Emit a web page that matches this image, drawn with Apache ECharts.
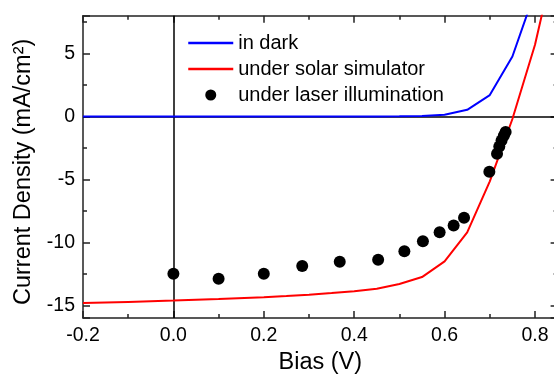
<!DOCTYPE html>
<html>
<head>
<meta charset="utf-8">
<script src="https://cdn.jsdelivr.net/npm/echarts@6/dist/echarts.min.js"></script>
<style>html,body{margin:0;padding:0;background:#fff}#c{width:554px;height:375px}</style>
</head>
<body>
<div id="c"></div>
<script>
const darkV = [-0.2, -0.1, 0.0, 0.1, 0.2, 0.3, 0.4, 0.45, 0.5, 0.55, 0.6, 0.65, 0.7, 0.75, 0.8];
const darkJ = [0, 0, 0, 0, 0, 0, 0, 0, 0.01, 0.03, 0.13, 0.53, 1.7, 4.76, 9.9];
const solarV = [-0.2, -0.1, 0.0, 0.1, 0.2, 0.25, 0.3, 0.35, 0.4, 0.45, 0.5, 0.55, 0.6, 0.65, 0.7, 0.75, 0.8, 0.85];
const solarJ = [-14.81, -14.72, -14.62, -14.5, -14.35, -14.26, -14.15, -14.02, -13.88, -13.67, -13.3, -12.75, -11.5, -9.2, -5.15, -0.2, 5.7, 13.5];
const laserV = [0, 0.1, 0.2, 0.285, 0.368, 0.453, 0.511, 0.552, 0.589, 0.62, 0.643, 0.699, 0.716, 0.721, 0.726, 0.731, 0.735];
const laserJ = [-12.49, -12.89, -12.49, -11.88, -11.53, -11.37, -10.7, -9.9, -9.2, -8.65, -8.05, -4.38, -2.96, -2.38, -1.9, -1.53, -1.24];
const names = ['in dark', 'under solar simulator', 'under laser illumination'];

const zip = (a, b) => a.map((v, i) => [v, b[i]]);
const FONT = 'Liberation Sans, Arial, sans-serif';
const axisCol = '#222';

function xAx(pos, show) {
  return {
    type: 'value', position: pos, min: -0.2, max: 0.85, interval: 0.2,
    axisLine: { show: true, onZero: false, lineStyle: { color: axisCol, width: 1.5 } },
    axisTick: { show: true, inside: true, length: 7, lineStyle: { color: axisCol, width: 1.5 } },
    minorTick: { show: true, splitNumber: 2, length: 4, lineStyle: { color: axisCol, width: 1.5 } },
    splitLine: { show: false },
    axisLabel: { show: show, showMaxLabel: false, margin: 8, color: '#000', fontSize: 19.5, fontFamily: FONT,
      formatter: v => v.toFixed(1) },
    name: show ? 'Bias (V)' : '', nameLocation: 'middle', nameGap: 33,
    nameTextStyle: { color: '#000', fontSize: 23.5, fontFamily: FONT }
  };
}
function yAx(pos, show) {
  return {
    type: 'value', position: pos, min: -16, max: 8, splitNumber: 5,
    axisLine: { show: true, onZero: false, lineStyle: { color: axisCol, width: 1.5 } },
    axisTick: { show: true, inside: true, length: 7, lineStyle: { color: axisCol, width: 1.5 } },
    minorTick: { show: true, splitNumber: 2, length: 4, lineStyle: { color: axisCol, width: 1.5 } },
    splitLine: { show: false },
    axisLabel: { show: show, showMinLabel: false, showMaxLabel: false, margin: 8, color: '#000', fontSize: 19.5, fontFamily: FONT },
    name: show ? 'Current Density (mA/cm²)' : '', nameLocation: 'middle', nameGap: 44, nameRotate: 90,
    nameTextStyle: { color: '#000', fontSize: 23.5, fontFamily: FONT, padding: [0, 10, 0, 0] }
  };
}

const chart = echarts.init(document.getElementById('c'), null, { renderer: 'canvas' });
chart.setOption({
  animation: false,
  backgroundColor: '#fff',
  grid: { left: 83, right: -3.6, top: 15.7, bottom: 57, outerBoundsMode: 'none', containLabel: false },
  xAxis: [xAx('bottom', true), xAx('top', false)],
  yAxis: [yAx('left', true), yAx('right', false)],
  legend: {
    orient: 'vertical', left: 187, top: 33, padding: 0, itemWidth: 45, itemHeight: 11, itemGap: 6,
    lineStyle: { width: 2.5 },
    data: [
      { name: names[0], itemStyle: { opacity: 0, color: 'rgba(0,0,0,0)', borderWidth: 0 } },
      { name: names[1], itemStyle: { opacity: 0, color: 'rgba(0,0,0,0)', borderWidth: 0 } },
      { name: names[2] }
    ],
    textStyle: { color: '#000', fontSize: 20, fontFamily: FONT, lineHeight: 20 }
  },
  series: [
    {
      name: names[0], type: 'line', data: zip(darkV, darkJ), symbol: 'none', showSymbol: false,
      lineStyle: { color: '#0000ff', width: 2 }, itemStyle: { color: '#0000ff' }, z: 3,
      markLine: {
        silent: true, symbol: 'none', z: 1, label: { show: false },
        lineStyle: { color: '#000', width: 1.5, type: 'solid' },
        data: [{ xAxis: 0 }, { yAxis: 0 }]
      }
    },
    {
      name: names[1], type: 'line', data: zip(solarV, solarJ), symbol: 'none', showSymbol: false,
      lineStyle: { color: '#ff0000', width: 2 }, itemStyle: { color: '#ff0000' }, z: 3
    },
    {
      name: names[2], type: 'scatter', data: zip(laserV, laserJ), symbol: 'circle', symbolSize: 12,
      itemStyle: { color: '#000', opacity: 1 }, z: 4
    }
  ]
});
</script>
</body>
</html>
